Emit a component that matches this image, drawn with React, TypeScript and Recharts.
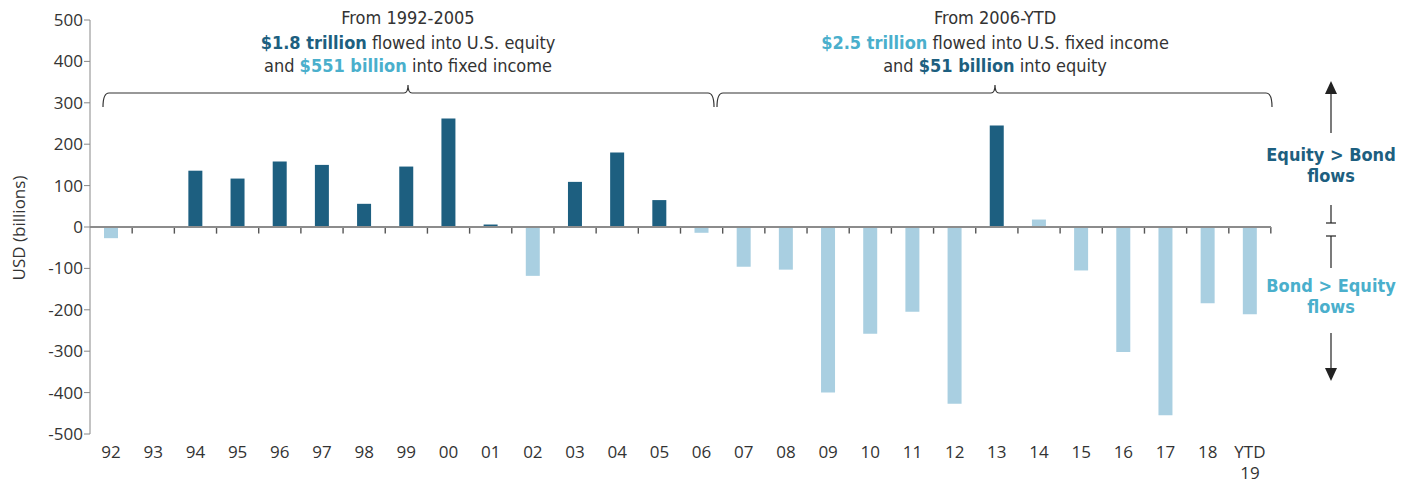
import React from "react";
import { BarChart, Bar, XAxis, YAxis, ReferenceLine, Customized } from "recharts";

const years = [
  "92", "93", "94", "95", "96", "97", "98", "99", "00", "01", "02", "03", "04", "05",
  "06", "07", "08", "09", "10", "11", "12", "13", "14", "15", "16", "17", "18", "YTD 19",
];
// equity flows exceeded bond flows
const equityOverBond = [
  null, 2, 136, 117, 158, 150, 56, 146, 262, 6, null, 109, 180, 65,
  null, null, null, null, null, null, null, 245, null, null, null, null, null, null,
];
// bond flows exceeded equity flows
const bondOverEquity = [
  -27, null, null, null, null, null, null, null, null, null, -118, null, null, null,
  -14, -96, -103, -400, -258, -205, -427, null, 18, -105, -302, -455, -184, -211,
];
const yTicks = [500, 400, 300, 200, 100, 0, -100, -200, -300, -400, -500];

const data = years.map((y, i) => ({ year: y, eq: equityOverBond[i], bond: bondOverEquity[i] }));

const DARK = "#1d5f80";
const LIGHT = "#a9cfe1";
const LIGHT_TEXT = "#4aafcc";
const TEXT = "#333";
const COND = "'DejaVu Sans Condensed', 'Liberation Sans Narrow', sans-serif";
const SANS = "'Open Sans', 'Noto Sans', sans-serif";

function XTick(props: any) {
  const { x, y, payload } = props;
  const parts = String(payload.value).split(" ");
  return (
    <text x={x} y={y} textAnchor="middle" fill={TEXT} fontSize={17} fontFamily={SANS}>
      {parts.map((p, i) => (
        <tspan key={i} x={x} dy={i === 0 ? 16 : 21}>{p}</tspan>
      ))}
    </text>
  );
}

// full-band bar used only to place the small ticks under the zero line at band edges
function BandTick(props: any) {
  const { x, y, width, height, index } = props;
  const top = Math.min(y, y + height);
  const len = Math.abs(height);
  return (
    <g stroke="#555" strokeWidth={1.4}>
      {index > 0 && <line x1={x} x2={x} y1={top} y2={top + len} />}
      {index === years.length - 1 && <line x1={x + width} x2={x + width} y1={top} y2={top + len} />}
    </g>
  );
}

function Bracket({ l, r, c }: { l: number; r: number; c: number }) {
  const y = 85;
  const d = `M${l},99 Q${l},${y} ${l + 6},${y} L${c - 4},${y} Q${c},${y} ${c},77 Q${c},${y} ${c + 4},${y} L${r - 6},${y} Q${r},${y} ${r},99`;
  return <path d={d} fill="none" stroke="#333" strokeWidth={1.2} />;
}

function Annotations() {
  const cx = 1323;
  return (
    <g>
      <text x={12} y={220} transform="rotate(-90 12 220)" textAnchor="middle" dominantBaseline="middle"
        fill={TEXT} fontSize={17} fontFamily={SANS}>USD (billions)</text>

      <g fontFamily={COND} fontSize={18} fill={TEXT} textAnchor="middle">
        <text x={400} y={16}>From 1992-2005</text>
        <text x={400} y={41}>
          <tspan fill={DARK} fontWeight="bold">$1.8 trillion</tspan> flowed into U.S. equity
        </text>
        <text x={400} y={64}>
          and <tspan fill={LIGHT_TEXT} fontWeight="bold">$551 billion</tspan> into fixed income
        </text>
        <text x={987} y={16}>From 2006-YTD</text>
        <text x={987} y={41}>
          <tspan fill={LIGHT_TEXT} fontWeight="bold">$2.5 trillion</tspan> flowed into U.S. fixed income
        </text>
        <text x={987} y={64}>
          and <tspan fill={DARK} fontWeight="bold">$51 billion</tspan> into equity
        </text>
      </g>
      <Bracket l={95} r={706} c={400} />
      <Bracket l={709} r={1264} c={987} />

      <g stroke="#222" strokeWidth={1.2}>
        <line x1={cx} y1={84} x2={cx} y2={125} />
        <line x1={cx} y1={197} x2={cx} y2={215} />
        <line x1={cx - 5} y1={215} x2={cx + 5} y2={215} />
        <line x1={cx - 5} y1={228} x2={cx + 5} y2={228} />
        <line x1={cx} y1={228} x2={cx} y2={260} />
        <line x1={cx} y1={325} x2={cx} y2={362} />
      </g>
      <path d={`M${cx - 6},86 L${cx},73 L${cx + 6},86 Z`} fill="#222" />
      <path d={`M${cx - 6},360 L${cx},373 L${cx + 6},360 Z`} fill="#222" />
      <g fontFamily={COND} fontSize={18} fontWeight="bold" textAnchor="middle">
        <text x={cx} y={153} fill={DARK}>Equity &gt; Bond</text>
        <text x={cx} y={174} fill={DARK}>flows</text>
        <text x={cx} y={284} fill={LIGHT_TEXT}>Bond &gt; Equity</text>
        <text x={cx} y={305} fill={LIGHT_TEXT}>flows</text>
      </g>
    </g>
  );
}

export default function App() {
  return (
    <BarChart width={1400} height={475} data={data} barCategoryGap={0}
      margin={{ top: 12, right: 137, bottom: 0, left: 0 }}>
      <XAxis dataKey="year" height={49} axisLine={false} tickLine={false} interval={0} tick={<XTick />} />
      <XAxis xAxisId="band" dataKey="year" hide />
      <YAxis
        width={82}
        domain={[-500, 500]}
        ticks={yTicks}
        interval={0}
        tickSize={6}
        tickMargin={1}
        axisLine={{ stroke: "#888" }}
        tickLine={{ stroke: "#888" }}
        tick={{ fill: TEXT, fontSize: 17, fontFamily: SANS }}
      />
      <Bar dataKey="eq" stackId="a" fill={DARK} barSize={14} isAnimationActive={false} />
      <Bar dataKey="bond" stackId="a" fill={LIGHT} barSize={14} isAnimationActive={false} />
      <Bar xAxisId="band" dataKey={() => -16} shape={BandTick} isAnimationActive={false} />
      <ReferenceLine y={0} stroke="#8c8c8c" strokeWidth={2} />
      <Customized component={<Annotations />} />
    </BarChart>
  );
}
